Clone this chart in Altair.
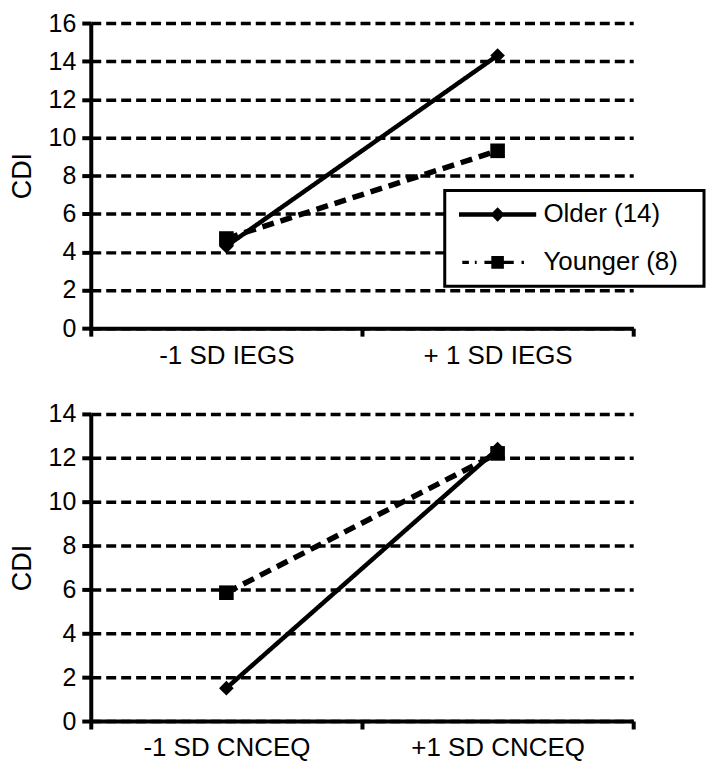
import altair as alt
import pandas as pd

FONT = "Liberation Sans"

series = ["Older (14)", "Younger (8)"]

top_levels = ["-1 SD IEGS", "+ 1 SD IEGS"]
top_older = [4.3, 14.3]
top_younger = [4.7, 9.3]
top_ticks = [0, 2, 4, 6, 8, 10, 12, 14, 16]

bot_levels = ["-1 SD CNCEQ", "+1 SD CNCEQ"]
bot_older = [1.5, 12.4]
bot_younger = [5.85, 12.2]
bot_ticks = [0, 2, 4, 6, 8, 10, 12, 14]

# legend symbol glyphs (line + marker), in symbol units
older_glyph = "M-6.45,-0.36L6.45,-0.36L6.45,0.36L-6.45,0.36Z M0,-1.2L1.2,0L0,1.2L-1.2,0Z"
younger_glyph = (
    "M-5.9,-0.27L-4.8,-0.27L-4.8,0.27L-5.9,0.27Z "
    "M-3.8,-0.27L-3.5,-0.27L-3.5,0.27L-3.8,0.27Z "
    "M-2.2,-0.27L-1.0,-0.27L-1.0,0.27L-2.2,0.27Z "
    "M-1.05,-1.05L1.05,-1.05L1.05,1.05L-1.05,1.05Z "
    "M1.0,-0.27L2.7,-0.27L2.7,0.27L1.0,0.27Z "
    "M4.0,-0.27L4.4,-0.27L4.4,0.27L4.0,0.27Z"
)


def make_df(levels, older, younger):
    rows = []
    for s, vals in zip(series, [older, younger]):
        for lv, v in zip(levels, vals):
            rows.append({"level": lv, "value": v, "series": s})
    return pd.DataFrame(rows)


def panel(levels, older, younger, ticks, ymax, height, with_legend):
    df = make_df(levels, older, younger)
    base = alt.Chart(df).encode(
        x=alt.X(
            "level:N",
            sort=levels,
            scale=alt.Scale(type="band", domain=levels, paddingInner=0, paddingOuter=0),
            axis=alt.Axis(
                title=None,
                tickBand="extent",
                labelAngle=0,
                tickSize=8,
                tickWidth=4,
                domainWidth=4,
                labelPadding=6,
                labelFontSize=26,
                grid=False,
            ),
        ),
        y=alt.Y(
            "value:Q",
            scale=alt.Scale(domain=[0, ymax], nice=False, zero=True),
            axis=alt.Axis(
                title="CDI",
                values=ticks,
                grid=True,
                gridColor="black",
                gridDash=[10, 5],
                gridWidth=3.5,
                gridOpacity=1,
                tickSize=9,
                tickWidth=4,
                domainWidth=4,
                labelPadding=6,
                labelFontSize=25,
                titlePadding=12,
            ),
        ),
    )
    lines = base.mark_line(color="black").encode(
        strokeDash=alt.StrokeDash(
            "series:N",
            scale=alt.Scale(domain=series, range=[[1, 0], [12, 7]]),
            legend=None,
        ),
        strokeWidth=alt.StrokeWidth(
            "series:N",
            scale=alt.Scale(domain=series, range=[4.5, 5.5]),
            legend=None,
        ),
    )
    pts = base.mark_point(filled=True, color="black", size=215, opacity=1).encode(
        shape=alt.Shape(
            "series:N",
            scale=alt.Scale(domain=series, range=["diamond", "square"]),
            legend=None,
        )
    )
    layers = [lines, pts]
    if with_legend:
        leg = base.mark_point(filled=True, color="black", size=144, opacity=0).encode(
            shape=alt.Shape(
                "series:N",
                scale=alt.Scale(domain=series, range=[older_glyph, younger_glyph]),
                legend=alt.Legend(
                    title=None,
                    orient="none",
                    legendX=355,
                    legendY=168,
                    symbolOpacity=1,
                    symbolSize=144,
                    symbolFillColor="black",
                    symbolStrokeWidth=0,
                    symbolOffset=29,
                    labelOffset=33,
                    labelExpr="datum.label + '\u00a0\u00a0\u200b'",
                    labelFont=FONT,
                    labelFontSize=26,
                    labelColor="black",
                    rowPadding=22,
                    padding=11,
                    strokeColor="black",
                    fillColor="white",
                    labelLimit=400,
                ),
            )
        )
        layers.append(leg)
    ch = alt.layer(*layers).properties(width=544, height=height)
    if with_legend:
        ch = ch.resolve_scale(shape="independent")
    return ch


top = panel(top_levels, top_older, top_younger, top_ticks, 16, 306, True)
bottom = panel(bot_levels, bot_older, bot_younger, bot_ticks, 14, 308, False)

chart = (
    alt.vconcat(top, bottom, spacing=34)
    .properties(padding={"left": 0, "top": 2, "right": 0, "bottom": 0})
    .configure_view(stroke=None)
    .configure_axis(
        labelFont=FONT,
        labelColor="black",
        titleFont=FONT,
        titleFontSize=27,
        titleFontWeight="normal",
        titleColor="black",
        domainColor="black",
        tickColor="black",
    )
    .configure_legend(strokeWidth=3)
)

chart.save("out.html", embed_options={"renderer": "svg", "actions": False})
